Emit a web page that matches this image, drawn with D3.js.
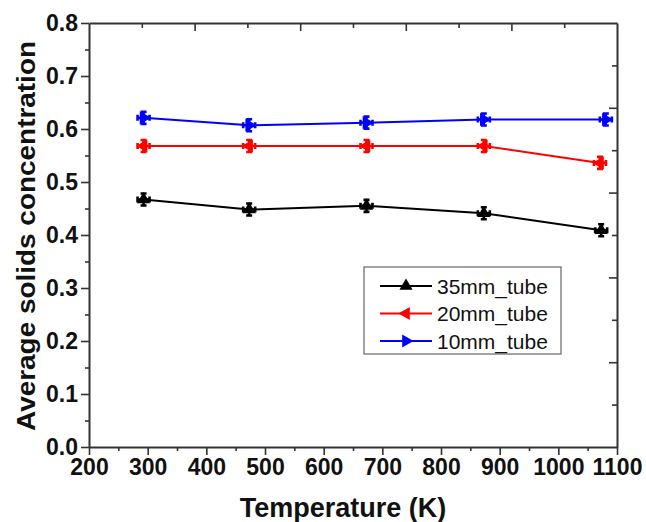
<!DOCTYPE html>
<html>
<head>
<meta charset="utf-8">
<script src="https://cdn.jsdelivr.net/npm/d3@7"></script>
<style>
  body { margin: 0; background: #fff; }
  svg { font-family: Arial, "Liberation Sans", sans-serif; }
</style>
</head>
<body>
<div id="chart"></div>
<script>
// data
const temps35 = [293, 473, 673, 873, 1073];
const conc35 = [0.467, 0.448, 0.455, 0.441, 0.409];
const temps20 = [293, 473, 673, 873, 1071];
const conc20 = [0.568, 0.568, 0.568, 0.568, 0.536];
const temps10 = [293, 473, 673, 873, 1081];
const conc10 = [0.621, 0.607, 0.612, 0.618, 0.618];

const seriesNames = ["35mm_tube", "20mm_tube", "10mm_tube"];
const xTicks = [200, 300, 400, 500, 600, 700, 800, 900, 1000, 1100];
const yTicks = [0.0, 0.1, 0.2, 0.3, 0.4, 0.5, 0.6, 0.7, 0.8];

const W = 646, H = 522;
const margin = { top: 23, right: 29, bottom: 75, left: 89 },
  width = W - margin.left - margin.right,
  height = H - margin.top - margin.bottom;

const svg = d3.select("#chart").append("svg")
  .attr("width", W).attr("height", H);
const g = svg.append("g")
  .attr("transform", "translate(" + margin.left + "," + margin.top + ")");

const x = d3.scaleLinear().domain([200, 1100]).range([0, width]);
const y = d3.scaleLinear().domain([0, 0.8]).range([height, 0]);

const axisColor = "#333";

// bottom axis: major ticks outward with labels, minor ticks between
const minorX = d3.range(250, 1100, 100);
g.append("g").attr("transform", "translate(0," + height + ")")
  .call(d3.axisBottom(x).tickValues(xTicks).tickSize(8).tickSizeOuter(0).tickPadding(4).tickFormat(d3.format("d")))
  .call(a => a.selectAll("text").attr("font-size", 23).attr("font-weight", "bold").attr("fill", "#111"));
g.append("g").attr("transform", "translate(0," + height + ")")
  .call(d3.axisBottom(x).tickValues(minorX).tickSize(4).tickFormat(""))
  .call(a => a.select(".domain").remove());

// left axis
const minorY = d3.range(0.05, 0.8, 0.1);
g.append("g")
  .call(d3.axisLeft(y).tickValues(yTicks).tickSize(8).tickSizeOuter(0).tickPadding(3).tickFormat(d3.format(".1f")))
  .call(a => a.selectAll("text").attr("font-size", 23).attr("font-weight", "bold").attr("fill", "#111"));
g.append("g")
  .call(d3.axisLeft(y).tickValues(minorY).tickSize(4).tickFormat(""))
  .call(a => a.select(".domain").remove());

// top and right frame with inward ticks (own spacing, as in the picture)
const xTop = d3.scaleLinear().domain([0, 10]).range([0, width]);
g.append("g")
  .call(d3.axisBottom(xTop).tickValues([2, 4, 6, 8]).tickSize(8).tickSizeOuter(0).tickFormat(""));
g.append("g")
  .call(d3.axisBottom(xTop).tickValues([1, 3, 5, 7, 9]).tickSize(5).tickFormat(""))
  .call(a => a.select(".domain").remove());
const yRight = d3.scaleLinear().domain([0, 10]).range([0, height]);
g.append("g").attr("transform", "translate(" + width + ",0)")
  .call(d3.axisLeft(yRight).tickValues([2, 4, 6, 8]).tickSize(8).tickSizeOuter(0).tickFormat(""));
g.append("g").attr("transform", "translate(" + width + ",0)")
  .call(d3.axisLeft(yRight).tickValues([1, 3, 5, 7, 9]).tickSize(5).tickFormat(""))
  .call(a => a.select(".domain").remove());

g.selectAll(".domain").attr("stroke", axisColor).attr("stroke-width", 2);
g.selectAll(".tick line").attr("stroke", axisColor).attr("stroke-width", 1.6);

// axis titles
svg.append("text")
  .attr("x", 343).attr("y", 517)
  .attr("text-anchor", "middle")
  .attr("font-size", 27).attr("font-weight", "bold").attr("fill", "#111")
  .text("Temperature (K)");
svg.append("text")
  .attr("transform", "translate(35,236) rotate(-90)")
  .attr("text-anchor", "middle")
  .attr("font-size", 26).attr("font-weight", "bold").attr("fill", "#111")
  .attr("textLength", 390).attr("lengthAdjust", "spacingAndGlyphs")
  .text("Average solids concentration");

// series
const series = [
  { name: seriesNames[0], xs: temps35, ys: conc35, color: "#000", rot: 0 },
  { name: seriesNames[1], xs: temps20, ys: conc20, color: "#ff0000", rot: -90 },
  { name: seriesNames[2], xs: temps10, ys: conc10, color: "#0000ff", rot: 90 }
];

const tri = d3.symbol().type(d3.symbolTriangle).size(75);
const line = d3.line().x(d => x(d[0])).y(d => y(d[1]));

function drawMarker(sel, color, rot, withBars) {
  // small error-bar cross behind the triangle gives the blobby star look
  if (withBars) {
    sel.append("path")
      .attr("d", "M0,-6.5V6.5M-3,-6H3M-3,6H3M-6.5,0H6.5M-6,-3V3M6,-3V3")
      .attr("stroke", color).attr("stroke-width", 2.6).attr("fill", "none");
  }
  sel.append("path")
    .attr("d", tri)
    .attr("transform", "rotate(" + rot + ")")
    .attr("fill", color);
}

series.forEach(s => {
  const pts = s.xs.map((v, i) => [v, s.ys[i]]);
  g.append("path")
    .datum(pts)
    .attr("d", line)
    .attr("fill", "none")
    .attr("stroke", s.color)
    .attr("stroke-width", 2);
  g.selectAll(null)
    .data(pts)
    .enter().append("g")
    .attr("transform", d => "translate(" + x(d[0]) + "," + y(d[1]) + ")")
    .each(function () { drawMarker(d3.select(this), s.color, s.rot, true); });
});

// legend
const legend = svg.append("g").attr("transform", "translate(364,267)");
legend.append("rect")
  .attr("width", 197).attr("height", 87)
  .attr("fill", "#fff").attr("stroke", "#666").attr("stroke-width", 1.2);
series.forEach((s, i) => {
  const ly = 19 + i * 27.5;
  legend.append("line")
    .attr("x1", 16).attr("x2", 68).attr("y1", ly).attr("y2", ly)
    .attr("stroke", s.color).attr("stroke-width", 2);
  const m = legend.append("g").attr("transform", "translate(42," + ly + ")");
  drawMarker(m, s.color, s.rot, false);
  legend.append("text")
    .attr("x", 73).attr("y", ly + 7.5)
    .attr("font-size", 21).attr("fill", "#111")
    .text(s.name);
});
</script>
</body>
</html>
